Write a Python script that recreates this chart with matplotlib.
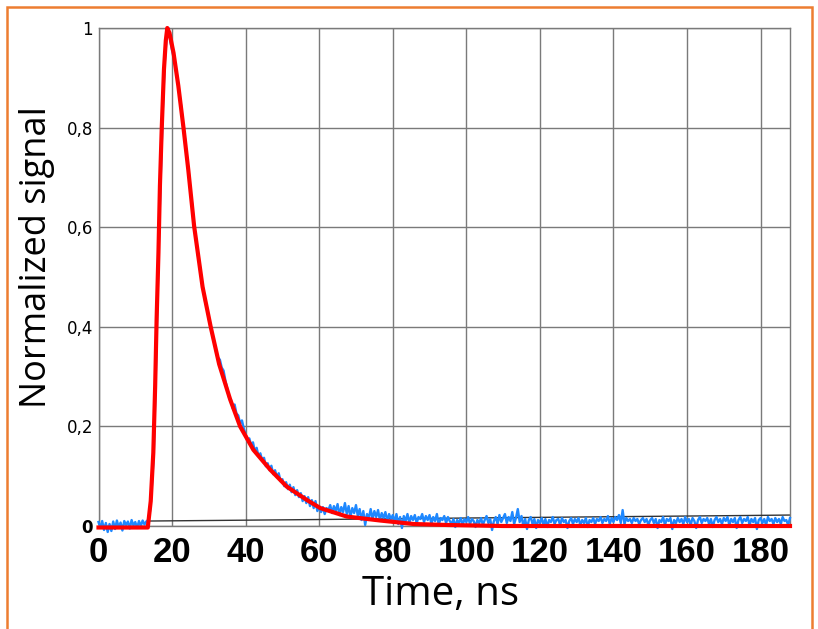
import numpy as np
import matplotlib
matplotlib.use("Agg")
import matplotlib.pyplot as plt
from matplotlib.patches import Rectangle

# ---- data ----
time_step_ns = 0.5
signal = [
    0.008, -0.004, 0.010, -0.008, 0.006, -0.012, 0.004, -0.010, 0.009, -0.006,
    0.011, -0.003, 0.007, -0.009, 0.010, 0.002, 0.009, -0.005, 0.012, 0.001,
    0.008, -0.004, 0.010, 0.000, 0.011, 0.003, 0.009, 0.012, 0.030, 0.080,
    0.14, 0.28, 0.44, 0.60, 0.72, 0.84, 0.93, 0.98, 1.00, 0.975,
    0.955, 0.940, 0.918, 0.897, 0.866, 0.842, 0.803, 0.778, 0.740, 0.713,
    0.672, 0.644, 0.600, 0.578, 0.545, 0.525, 0.494, 0.475, 0.450, 0.438,
    0.415, 0.403, 0.380, 0.370, 0.348, 0.338, 0.334, 0.318, 0.312, 0.292,
    0.276, 0.258, 0.254, 0.236, 0.244, 0.226, 0.222, 0.206, 0.212, 0.196,
    0.184, 0.170, 0.176, 0.162, 0.168, 0.150, 0.157, 0.140, 0.146, 0.132,
    0.137, 0.120, 0.126, 0.112, 0.121, 0.104, 0.112, 0.098, 0.106, 0.090,
    0.094, 0.080, 0.088, 0.074, 0.083, 0.068, 0.078, 0.062, 0.072, 0.058,
    0.066, 0.050, 0.060, 0.046, 0.058, 0.040, 0.052, 0.036, 0.050, 0.030,
    0.040, 0.028, 0.038, 0.024, 0.036, 0.032, 0.042, 0.026, 0.040, 0.030,
    0.044, 0.022, 0.038, 0.028, 0.046, 0.024, 0.040, 0.018, 0.036, 0.026,
    0.042, 0.020, 0.034, 0.012, 0.030, 0.002, 0.024, 0.016, 0.034, 0.014,
    0.030, 0.018, 0.032, 0.012, 0.026, 0.016, 0.028, 0.010, 0.024, 0.014,
    0.022, 0.008, 0.024, 0.004, 0.018, -0.004, 0.020, 0.010, 0.024, 0.006,
    0.020, 0.012, 0.022, 0.006, 0.018, 0.014, 0.024, 0.008, 0.020, 0.012,
    0.022, 0.004, 0.018, 0.010, 0.024, 0.002, 0.016, 0.012, 0.020, 0.006,
    0.018, 0.010, 0.004, 0.014, -0.002, 0.012, 0.006, 0.016, 0.002, 0.014,
    0.008, 0.018, 0.004, 0.014, 0.010, -0.002, 0.012, 0.006, 0.016, 0.002,
    0.012, 0.020, 0.006, 0.014, -0.008, 0.010, 0.018, 0.004, 0.022, 0.008,
    0.016, 0.024, 0.006, 0.018, 0.010, 0.028, 0.004, 0.016, 0.034, 0.008,
    0.020, 0.000, 0.014, -0.006, 0.012, 0.018, 0.004, 0.014, -0.004, 0.012,
    0.006, 0.016, 0.002, 0.014, -0.002, 0.012, 0.008, 0.018, 0.004, 0.012,
    0.014, 0.002, 0.016, 0.008, 0.012, -0.004, 0.010, 0.016, 0.004, 0.014,
    0.008, 0.016, 0.002, 0.012, 0.006, 0.016, -0.002, 0.012, 0.008, 0.016,
    0.004, 0.014, 0.010, 0.018, 0.006, 0.014, 0.010, 0.020, 0.004, 0.016,
    0.008, 0.018, 0.012, 0.022, 0.006, 0.032, 0.004, 0.016, 0.010, 0.014,
    0.006, 0.016, 0.010, 0.014, 0.004, 0.012, 0.016, 0.008, 0.014, 0.002,
    0.012, 0.016, 0.006, 0.014, -0.004, 0.012, 0.008, 0.018, 0.002, 0.014,
    0.010, 0.016, -0.006, 0.012, 0.006, 0.016, 0.008, 0.014, 0.004, 0.018,
    0.008, 0.014, 0.002, 0.016, 0.010, -0.004, 0.012, 0.018, 0.006, 0.014,
    0.010, 0.016, 0.004, 0.014, -0.002, 0.012, 0.018, 0.008, 0.014, 0.004,
    0.016, 0.010, 0.018, 0.002, 0.014, 0.008, 0.016, -0.004, 0.012, 0.018,
    0.006, 0.014, 0.010, 0.018, 0.002, 0.014, 0.008, 0.016, -0.006, 0.012,
    0.016, 0.006, 0.014, 0.002, 0.018, 0.010, 0.014, 0.004, 0.016, 0.008,
    0.014, 0.004, 0.018, 0.010, 0.012, 0.002, 0.016,
]
fit_t = [0, 13.4, 14.2, 14.9, 15.4, 15.8, 16.3, 16.7, 17.2, 17.8, 18.3, 18.7,
         19.3, 20.4, 21.7, 23.1, 24.4, 26.0, 28.3, 30.5, 32.8, 35.8, 38.5,
         42.1, 46.7, 51.2, 56.7, 60.3, 67.5, 76.6, 85.7, 95, 110, 188]
fit_y = [-0.003, -0.003, 0.05, 0.147, 0.28, 0.415, 0.549, 0.683, 0.80, 0.917,
         0.975, 1.0, 0.99, 0.95, 0.884, 0.80, 0.716, 0.602, 0.48, 0.40, 0.325,
         0.254, 0.20, 0.153, 0.113, 0.079, 0.052, 0.036, 0.019, 0.011, 0.004,
         0.002, 0.0, 0.0]
base_t = [14, 60, 100, 175, 188]
base_y = [0.010, 0.013, 0.016, 0.021, 0.022]

x_ticks = [0, 20, 40, 60, 80, 100, 120, 140, 160, 180]
y_ticks = [0, 0.2, 0.4, 0.6, 0.8, 1.0]
y_tick_labels = ["0", "0,2", "0,4", "0,6", "0,8", "1"]

time_ns = np.arange(len(signal)) * time_step_ns

W, H = 818, 629
fig = plt.figure(figsize=(W / 100, H / 100), dpi=100)
ax = fig.add_axes([98.5 / W, 1 - 526 / H, (790 - 98.5) / W, (526 - 28) / H])

ax.set_xlim(0, 188)
ax.set_ylim(0, 1)
ax.grid(True, color="#7a7a7a", lw=1.0)
ax.set_axisbelow(True)
for s in ax.spines.values():
    s.set_color("#7a7a7a")
    s.set_linewidth(1.0)

ax.plot(base_t, base_y, color="#333333", lw=1.0, zorder=2)
ax.plot(time_ns, signal, color="#1e88ff", lw=1.7, zorder=3, clip_on=False)
ax.plot(fit_t, fit_y, color="#ff0000", lw=3.0, zorder=4, clip_on=False,
        solid_joinstyle="round")

ax.set_xticks(x_ticks)
ax.set_xticklabels([str(v) for v in x_ticks], fontfamily="Liberation Sans",
                   fontweight="bold", fontsize=25)
ax.set_yticks(y_ticks)
ax.set_yticklabels(y_tick_labels, fontfamily="DejaVu Sans", fontsize=12)
ax.get_yticklabels()[0].set_fontweight("bold")
ax.tick_params(axis="both", length=0)
ax.tick_params(axis="x", pad=7)
ax.tick_params(axis="y", pad=4)

fig.text(37 / W, 1 - 257 / H, "Normalized signal", rotation=90,
         ha="center", va="center", fontfamily="Open Sans", fontsize=26)
fig.text(441 / W, 1 - 595 / H, "Time, ns", ha="center", va="center",
         fontfamily="Open Sans", fontsize=29)

fig.patches.append(Rectangle((7 / W, -0.05), (812 - 7) / W, 1.05 - 7 / H,
                             transform=fig.transFigure, fill=False,
                             edgecolor="#ED7D31", lw=1.8))

fig.savefig("out.png", dpi=100)
